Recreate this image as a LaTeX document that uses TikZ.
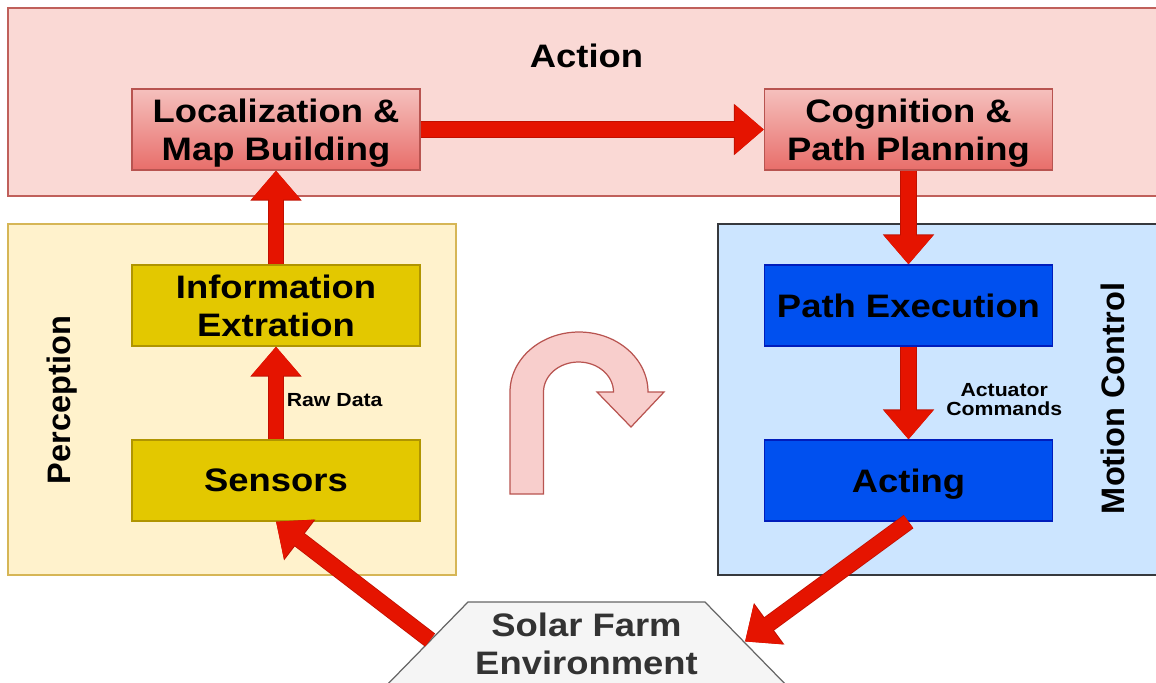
\documentclass[tikz,border=0pt]{standalone}
\usepackage{fontspec}
\setmainfont{Liberation Sans}[FakeStretch=1.12]
\newfontfamily\plainsans{Liberation Sans}
\usetikzlibrary{arrows.meta}

\definecolor{actFill}{HTML}{FAD9D5}
\definecolor{actLine}{HTML}{C0605B}
\definecolor{planTop}{HTML}{F5C0BD}
\definecolor{planBot}{HTML}{E86E6A}
\definecolor{planLine}{HTML}{B85450}
\definecolor{percFill}{HTML}{FFF2CC}
\definecolor{percLine}{HTML}{D6B656}
\definecolor{sensFill}{HTML}{E3C800}
\definecolor{sensLine}{HTML}{B09500}
\definecolor{motFill}{HTML}{CCE5FF}
\definecolor{motLine}{HTML}{36393D}
\definecolor{execFill}{HTML}{0050EF}
\definecolor{execLine}{HTML}{001DBC}
\definecolor{envFill}{HTML}{F5F5F5}
\definecolor{envLine}{HTML}{666666}
\definecolor{envText}{HTML}{333333}
\definecolor{flowRed}{HTML}{E51400}
\definecolor{flowEdge}{HTML}{C01000}
\definecolor{turnFill}{HTML}{F8CECC}

\newcommand{\bigtxt}{\fontsize{18.5}{21.6}\selectfont\bfseries}
\newcommand{\sidetxt}{\plainsans\fontsize{18.5}{21.6}\selectfont\bfseries}
\newcommand{\smalltxt}{\fontsize{10.8}{11.2}\selectfont\bfseries}

\begin{document}
\begin{tikzpicture}[
    zone/.style={draw, line width=0.7pt, inner sep=0pt},
    stage/.style={draw, line width=0.7pt, minimum width=5.76cm, minimum height=1.62cm, inner sep=0pt, text depth=0pt, align=center, font=\bigtxt},
    planbox/.style={stage, top color=planTop, bottom color=planBot, draw=planLine},
    sensbox/.style={stage, fill=sensFill, draw=sensLine},
    execbox/.style={stage, fill=execFill, draw=execLine},
    flow/.style={line width=8.5pt, draw=flowRed, -{Triangle[length=0.58cm, width=0.95cm]},
      preaction={draw=flowEdge, line width=9.4pt, -{Triangle[length=0.6cm, width=0.99cm]}}},
    tag/.style={font=\smalltxt, align=center},
    title/.style={font=\bigtxt}
  ]
      \path[use as bounding box, clip] (0,0) rectangle (23.12,-13.64);

      % zones
      \node[zone, fill=actFill, draw=actLine, minimum width=23.2cm, minimum height=3.76cm] (actzone) at (11.76,-2.04) {};
      \node[zone, fill=percFill, draw=percLine, minimum width=8.96cm, minimum height=7.02cm] (perczone) at (4.64,-7.99) {};
      \node[zone, fill=motFill, draw=motLine, minimum width=9cm, minimum height=7.02cm] (motzone) at (18.86,-7.99) {};

      \node[title] (acttitle) at (11.73,-1.12) {Action};
      \node[font=\sidetxt, rotate=90] (perctitle) at (1.25,-8.0) {Perception};
      \node[font=\sidetxt, rotate=90] (mottitle) at (22.25,-7.97) {Motion Control};

      % stages
      \node[planbox] (loc) at (5.52,-2.59) {Localization \&\\Map Building};
      \node[planbox] (cog) at (18.17,-2.59) {Cognition \&\\Path Planning};
      \node[sensbox] (info) at (5.52,-6.11) {Information\\Extration};
      \node[sensbox] (sens) at (5.52,-9.61) {Sensors};
      \node[execbox] (exec) at (18.17,-6.11) {Path Execution};
      \node[execbox] (act) at (18.17,-9.61) {Acting};

      % environment
      \draw[fill=envFill, draw=envLine, line width=0.7pt]
        (7.64,-13.8) -- (9.36,-12.04) -- (14.1,-12.04) -- (15.82,-13.8) -- cycle;
      \node[text=envText, align=center, font=\bigtxt] (env) at (11.73,-12.88) {Solar Farm\\Environment};
      \coordinate (envin) at (14.9,-12.83);
      \coordinate (envout) at (8.6,-12.8);

      % u-turn
      \draw[fill=turnFill, draw=planLine, line width=0.7pt]
        (10.2,-9.88) -- (10.2,-7.84) arc[start angle=180, end angle=0, x radius=1.38cm, y radius=1.2cm]
        -- (13.28,-7.84) -- (12.62,-8.54) -- (11.94,-7.84) -- (12.27,-7.84)
        arc[start angle=0, end angle=180, x radius=0.7cm, y radius=0.6cm] -- (10.87,-9.88) -- cycle;

      % loop
      \draw[flow] (sens) -- node[tag, pos=0.42, right=-0.05cm] {Raw Data} (info);
      \draw[flow] (info) -- (loc);
      \draw[flow] (loc) -- (cog);
      \draw[flow] (cog) -- (exec);
      \draw[flow] (exec) -- node[tag, pos=0.57, right=0.49cm] {Actuator\\Commands} (act);
      \draw[flow] (act.south) -- (envin);
      \draw[flow] (envout) -- (sens.south);
    \end{tikzpicture}
\end{document}
